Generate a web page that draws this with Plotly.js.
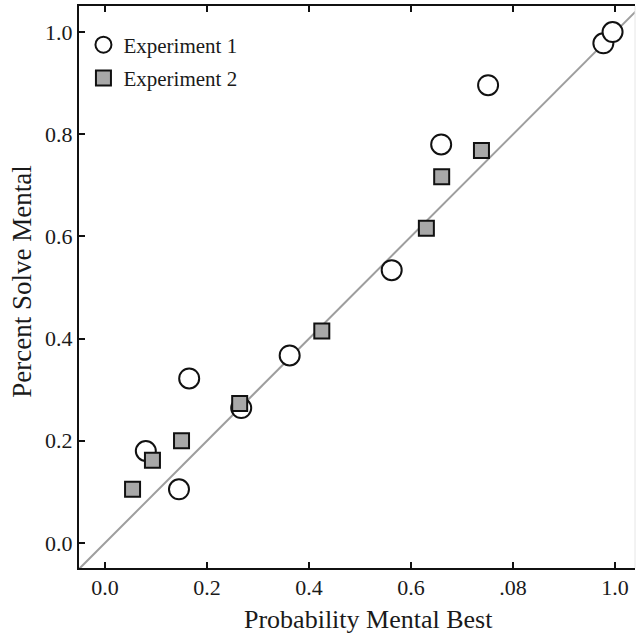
<!DOCTYPE html>
<html>
<head>
<meta charset="utf-8">
<script src="https://cdn.plot.ly/plotly-3.0.1.min.js"></script>
<style>
html,body{margin:0;padding:0;background:#fff;}
#chart{width:636px;height:634px;}
</style>
</head>
<body>
<div id="chart"></div>
<script>
// Experiment 1 (open circles)
const exp1X = [0.080, 0.145, 0.165, 0.267, 0.362, 0.562, 0.659, 0.751, 0.977, 0.995];
const exp1Y = [0.180, 0.105, 0.322, 0.264, 0.367, 0.534, 0.780, 0.896, 0.978, 1.000];
// Experiment 2 (grey squares)
const exp2X = [0.054, 0.093, 0.150, 0.264, 0.425, 0.630, 0.660, 0.738];
const exp2Y = [0.105, 0.162, 0.200, 0.273, 0.415, 0.616, 0.717, 0.768];
// Identity line
const diagX = [-0.06, 1.06];
const diagY = [-0.06, 1.06];
// Ticks
const xTickVals = [0, 0.2, 0.4, 0.6, 0.8, 1.0];
const xTickText = ["0.0", "0.2", "0.4", "0.6", ".08", "1.0"];
const yTickVals = [0, 0.2, 0.4, 0.6, 0.8, 1.0];
const yTickText = ["0.0", "0.2", "0.4", "0.6", "0.8", "1.0"];
const xTitle = "Probability Mental Best";
const yTitle = "Percent Solve Mental";

const FONT = "Liberation Serif, Times New Roman, serif";

const traces = [
  {
    x: diagX, y: diagY, mode: "lines", showlegend: false, hoverinfo: "skip",
    line: {color: "#9e9e9e", width: 2}
  },
  {
    x: exp1X, y: exp1Y, mode: "markers", name: "Experiment 1", legendgroup: "e1",
    marker: {symbol: "circle", size: 20, color: "#ffffff", line: {color: "#111111", width: 2}}
  },
  {
    x: exp2X, y: exp2Y, mode: "markers", name: "Experiment 2", legendgroup: "e2",
    marker: {symbol: "square", size: 15, color: "#a8a8a8", line: {color: "#111111", width: 2}}
  }
];

const layout = {
  width: 636, height: 634,
  margin: {l: 79, r: 1, t: 6, b: 66},
  paper_bgcolor: "#ffffff", plot_bgcolor: "#ffffff",
  font: {family: FONT, color: "#1a1a1a", size: 22},
  showlegend: true,
  legend: {
    x: 0.008, y: 0.967, xanchor: "left", yanchor: "top",
    bgcolor: "rgba(0,0,0,0)", font: {family: FONT, size: 21, color: "#1a1a1a"},
    traceorder: "grouped", tracegroupgap: 3
  },
  xaxis: {
    range: [-0.051, 1.039],
    tickmode: "array", tickvals: xTickVals, ticktext: xTickText,
    ticks: "inside", ticklen: 6, tickwidth: 2, tickcolor: "#111",
    showline: true, linecolor: "#111", linewidth: 2, mirror: "ticks",
    showgrid: false, zeroline: false,
    tickfont: {family: FONT, size: 22, color: "#1a1a1a"},
    ticklabelstandoff: -1
  },
  yaxis: {
    range: [-0.049, 1.051],
    tickmode: "array", tickvals: yTickVals, ticktext: yTickText,
    ticks: "inside", ticklen: 6, tickwidth: 2, tickcolor: "#111",
    showline: true, linecolor: "#111", linewidth: 2, mirror: false,
    showgrid: false, zeroline: false,
    tickfont: {family: FONT, size: 22, color: "#1a1a1a"},
    ticklabelstandoff: 0
  },
  shapes: [
    {
      type: "line", xref: "paper", yref: "paper", x0: 1, x1: 1, y0: 0, y1: 1,
      line: {color: "#e6e6e6", width: 1}
    }
  ],
  annotations: [
    {
      text: xTitle, xref: "paper", yref: "paper", x: 0.521, y: -0.0925,
      xanchor: "center", yanchor: "middle", showarrow: false,
      font: {family: FONT, size: 26, color: "#1a1a1a"}
    },
    {
      text: yTitle, xref: "paper", yref: "paper", x: -0.102, y: 0.51,
      xanchor: "center", yanchor: "middle", showarrow: false, textangle: -90,
      font: {family: FONT, size: 27, color: "#1a1a1a"}
    }
  ]
};

Plotly.newPlot("chart", traces, layout, {displayModeBar: false, staticPlot: true});
</script>
</body>
</html>
